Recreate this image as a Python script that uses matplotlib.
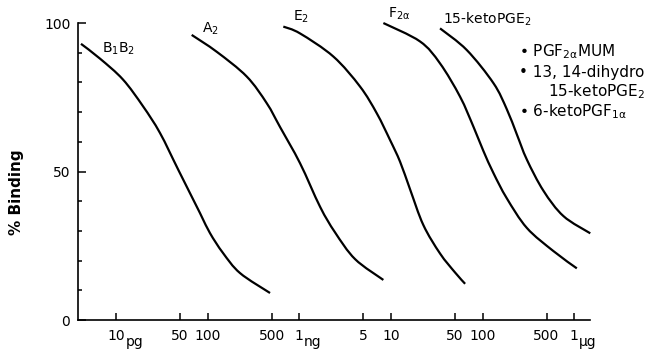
import numpy as np
import matplotlib
matplotlib.use('Agg')
import matplotlib.pyplot as plt
from matplotlib.path import Path
from matplotlib.patches import PathPatch
from matplotlib.ticker import NullLocator

# dose in pg, binding in %
b1b2_dose = [4.15, 6.7, 11.9, 19.7, 30.2, 48, 82.6, 106, 147, 226, 480]
b1b2_pct = [93, 88, 81, 72, 63, 50.5, 36, 29.3, 22.6, 15.8, 9.1]

a2_dose = [67, 126, 267, 442, 617, 1020, 1690, 2460, 4070, 8280]
a2_pct = [96, 90.3, 82, 73, 65, 52.8, 38.1, 29.5, 20.5, 13.5]

e2_dose = [670, 1020, 2360, 4610, 7020, 9800, 12600, 16200, 22600, 34400, 50200, 64600]
e2_pct = [98.8, 96.5, 88.7, 78.6, 69.6, 60.6, 53.3, 44, 32, 22.4, 16.0, 12.2]

f2a_dose = [8280, 20800, 34400, 56900, 79600, 102000, 132000, 184000, 305000, 595000, 1070000]
f2a_pct = [100, 93.8, 86.4, 75.2, 65.1, 57, 49.4, 41, 31, 23.2, 17.4]

keto_dose = [34400, 67400, 132000, 184000, 237000, 305000, 463000, 764000, 1500000]
keto_pct = [98.2, 90.9, 79.7, 71, 62.5, 54, 43.5, 35, 29.2]

x_ticks = [10, 50, 100, 500, 1e3, 5e3, 1e4, 5e4, 1e5, 5e5, 1e6]
x_labels = ['10', '50', '100', '500', '1', '5', '10', '50', '100', '500', '1']
unit_ticks = [10, 1e3, 1e6]
unit_labels = ['pg', 'ng', 'µg']
y_ticks = [0, 50, 100]


def smooth_path(dose, pct):
    # hand-drawn look: bezier through the read points, in log-x space
    k = 91.6 / 2.97
    pts = [(np.log10(d) * k, p) for d, p in zip(dose, pct)]
    n = len(pts)
    verts = [pts[0]]
    codes = [Path.MOVETO]
    for i in range(n - 1):
        p0, p1 = pts[max(i - 1, 0)], pts[i]
        p2, p3 = pts[i + 1], pts[min(i + 2, n - 1)]
        c1 = (p1[0] + (p2[0] - p0[0]) / 6, p1[1] + (p2[1] - p0[1]) / 6)
        c2 = (p2[0] - (p3[0] - p1[0]) / 6, p2[1] - (p3[1] - p1[1]) / 6)
        verts += [c1, c2, p2]
        codes += [Path.CURVE4] * 3
    verts = [(10 ** (u / k), v) for u, v in verts]
    return Path(verts, codes)


fig = plt.figure(figsize=(6.61, 3.49), dpi=100)
ax = fig.add_axes([0.118, 0.083, 0.775, 0.851])

ax.set_xscale('log')
ax.set_xlim(3.85, 1.5e6)
ax.set_ylim(0, 100)

curves = [(b1b2_dose, b1b2_pct), (a2_dose, a2_pct), (e2_dose, e2_pct),
          (f2a_dose, f2a_pct), (keto_dose, keto_pct)]
for dose, pct in curves:
    ax.add_patch(PathPatch(smooth_path(dose, pct), fill=False, ec='black',
                           lw=1.6, clip_on=False, capstyle='butt'))

for s in ['top', 'right']:
    ax.spines[s].set_visible(False)
for s in ['left', 'bottom']:
    ax.spines[s].set_linewidth(1.2)

ax.set_xticks(x_ticks)
ax.set_xticklabels(x_labels)
ax.xaxis.set_minor_locator(NullLocator())
ax.set_yticks(y_ticks)
ax.set_yticks(range(10, 100, 10), minor=True)
ax.tick_params(axis='both', which='both', direction='in', width=1.1,
               labelsize=10)
ax.tick_params(axis='y', which='major', length=6, pad=5.5)
ax.tick_params(axis='y', which='minor', length=3)
ax.tick_params(axis='x', which='major', length=5, pad=6.5)

for xt, lab in zip(unit_ticks, unit_labels):
    off = 7 if xt == 10 else 3.5
    ax.annotate(lab, xy=(xt, 0), xycoords=('data', 'axes fraction'),
                xytext=(off, -10.5), textcoords='offset points',
                ha='left', va='top', fontsize=10, annotation_clip=False)

ax.set_ylabel('% Binding', fontsize=11, fontweight='bold')
ax.yaxis.set_label_coords(-0.105, 0.431)

# curve labels
ax.text(7.0, 91.4, r'B$_\mathregular{1}$B$_\mathregular{2}$', fontsize=10,
        va='center', ha='left')
ax.text(87, 98, r'A$_\mathregular{2}$', fontsize=10, va='center', ha='left',
        clip_on=False)
ax.text(855, 102, r'E$_\mathregular{2}$', fontsize=10, va='center', ha='left',
        clip_on=False)
ax.text(9300, 103, r'F$_\mathregular{2\alpha}$', fontsize=10, va='center',
        ha='left', clip_on=False)
ax.text(37200, 101.3, r'15-ketoPGE$_\mathregular{2}$', fontsize=10,
        va='center', ha='left', clip_on=False)

# side list
ax.text(2.51e5, 90.2, r'• PGF$_\mathregular{2\alpha}$MUM', fontsize=11,
        va='center', ha='left', clip_on=False)
ax.text(2.51e5, 83.2, '• 13, 14-dihydro', fontsize=11, va='center',
        ha='left', clip_on=False)
ax.text(5.2e5, 76.8, r'15-ketoPGE$_\mathregular{2}$', fontsize=11,
        va='center', ha='left', clip_on=False)
ax.text(2.51e5, 70.0, r'• 6-ketoPGF$_\mathregular{1\alpha}$', fontsize=11,
        va='center', ha='left', clip_on=False)

fig.savefig('out.png', dpi=100)
